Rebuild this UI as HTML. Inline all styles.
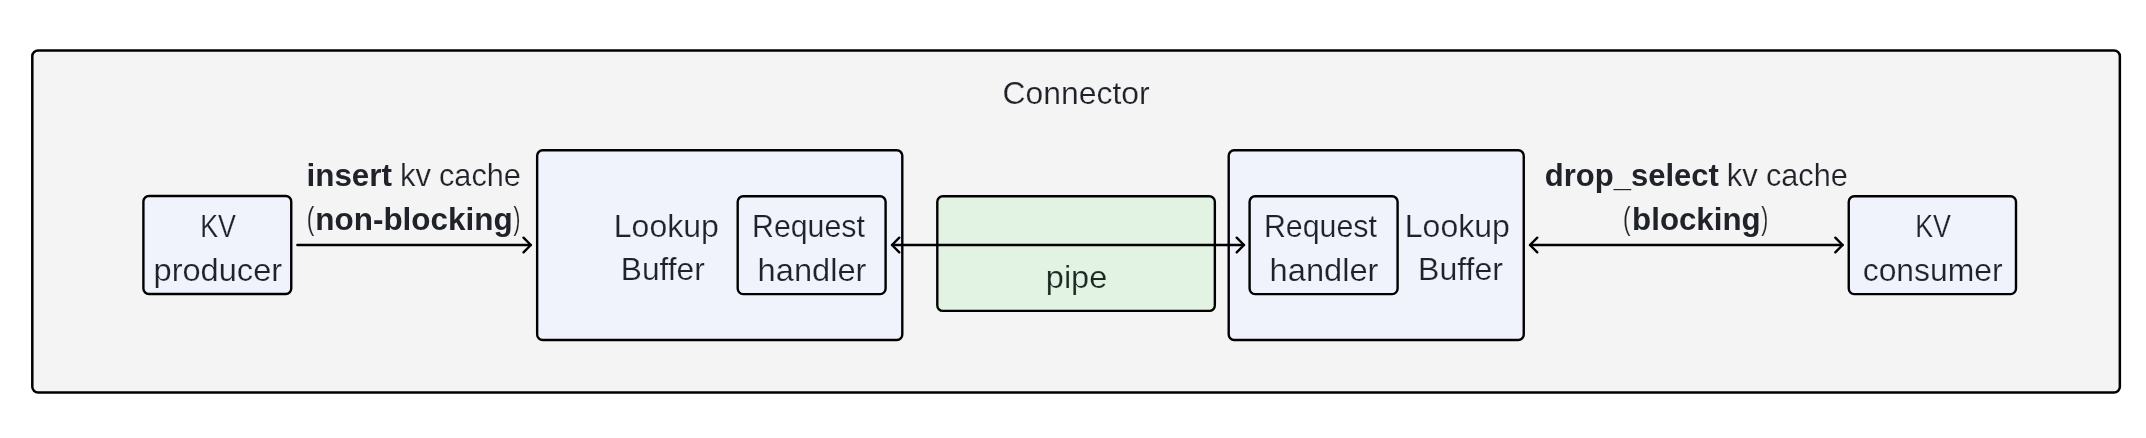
<!DOCTYPE html>
<html><head><meta charset="utf-8"><style>
html,body{margin:0;padding:0;background:#fff;width:2146px;height:438px;overflow:hidden}
svg{display:block;will-change:transform;font-family:"Liberation Sans",sans-serif;font-size:32px}
</style></head><body>
<svg width="2146" height="438" viewBox="0 0 2146 438">
<rect x="0" y="0" width="2146" height="438" fill="#fff"/>
<rect x="32.30" y="50.45" width="2087.55" height="342.05" rx="5.8" ry="5.8" fill="#f4f4f4" stroke="#000" stroke-width="2.5"/>
<rect x="143.40" y="196.00" width="147.85" height="98.00" rx="5.5" ry="5.5" fill="#f0f3fb" stroke="#000" stroke-width="2.4"/>
<rect x="537.15" y="150.20" width="365.15" height="189.80" rx="5.5" ry="5.5" fill="#f0f3fb" stroke="#000" stroke-width="2.4"/>
<rect x="737.70" y="196.20" width="147.90" height="97.90" rx="5.5" ry="5.5" fill="#f0f3fb" stroke="#000" stroke-width="2.4"/>
<rect x="937.30" y="196.30" width="277.55" height="114.60" rx="5.5" ry="5.5" fill="#e2f2e3" stroke="#000" stroke-width="2.4"/>
<rect x="1228.70" y="150.20" width="295.05" height="189.80" rx="5.5" ry="5.5" fill="#f0f3fb" stroke="#000" stroke-width="2.4"/>
<rect x="1249.60" y="196.20" width="148.00" height="97.90" rx="5.5" ry="5.5" fill="#f0f3fb" stroke="#000" stroke-width="2.4"/>
<rect x="1848.75" y="196.20" width="167.25" height="97.90" rx="5.5" ry="5.5" fill="#f0f3fb" stroke="#000" stroke-width="2.4"/>
<path d="M297.40 245.0 L530.80 245.0" fill="none" stroke="#000" stroke-width="2.4" stroke-linecap="round"/>
<path d="M523.50 237.70 L530.80 245.00 L523.50 252.30" fill="none" stroke="#000" stroke-width="2.4" stroke-linecap="round" stroke-linejoin="round"/>
<path d="M892.00 245.0 L1244.00 245.0" fill="none" stroke="#000" stroke-width="2.4" stroke-linecap="round"/>
<path d="M899.30 237.70 L892.00 245.00 L899.30 252.30" fill="none" stroke="#000" stroke-width="2.4" stroke-linecap="round" stroke-linejoin="round"/>
<path d="M1236.70 237.70 L1244.00 245.00 L1236.70 252.30" fill="none" stroke="#000" stroke-width="2.4" stroke-linecap="round" stroke-linejoin="round"/>
<path d="M1530.00 245.0 L1842.60 245.0" fill="none" stroke="#000" stroke-width="2.4" stroke-linecap="round"/>
<path d="M1537.30 237.70 L1530.00 245.00 L1537.30 252.30" fill="none" stroke="#000" stroke-width="2.4" stroke-linecap="round" stroke-linejoin="round"/>
<path d="M1835.30 237.70 L1842.60 245.00 L1835.30 252.30" fill="none" stroke="#000" stroke-width="2.4" stroke-linecap="round" stroke-linejoin="round"/>
<g fill="#1f2329">
<text transform="translate(1002.45 104.00) scale(0.9973 1)" stroke="#f4f4f4" stroke-width="0.2">Connector</text>
<text transform="translate(200.23 237.40) scale(0.8375 1)" stroke="#f0f3fb" stroke-width="0.2">KV</text>
<text transform="translate(153.53 280.70) scale(1.0186 1)" stroke="#f0f3fb" stroke-width="0.2">producer</text>
<text transform="translate(613.81 236.50) scale(0.9994 1)" stroke="#f0f3fb" stroke-width="0.2">Lookup</text>
<text transform="translate(620.82 280.00) scale(0.9902 1)" stroke="#f0f3fb" stroke-width="0.2">Buffer</text>
<text transform="translate(752.01 237.10) scale(0.9468 1)" stroke="#f0f3fb" stroke-width="0.2">Request</text>
<text transform="translate(757.60 280.70) scale(1.0202 1)" stroke="#f0f3fb" stroke-width="0.2">handler</text>
<text transform="translate(1045.84 287.90) scale(1.0154 1)" stroke="#e2f2e3" stroke-width="0.2" fill="#1d2a23">pipe</text>
<text transform="translate(1263.91 237.10) scale(0.9486 1)" stroke="#f0f3fb" stroke-width="0.2">Request</text>
<text transform="translate(1269.60 280.70) scale(1.0202 1)" stroke="#f0f3fb" stroke-width="0.2">handler</text>
<text transform="translate(1404.80 236.50) scale(1.0004 1)" stroke="#f0f3fb" stroke-width="0.2">Lookup</text>
<text transform="translate(1418.10 280.00) scale(1.0011 1)" stroke="#f0f3fb" stroke-width="0.2">Buffer</text>
<text transform="translate(1915.23 237.40) scale(0.8375 1)" stroke="#f0f3fb" stroke-width="0.2">KV</text>
<text transform="translate(1862.72 280.70) scale(0.9955 1)" stroke="#f0f3fb" stroke-width="0.2">consumer</text>
<text transform="translate(306.47 186.30) scale(0.9824 1)" font-weight="700">insert</text>
<text transform="translate(399.92 186.30) scale(0.9695 1)" stroke="#f4f4f4" stroke-width="0.2">kv</text>
<text transform="translate(438.95 186.30) scale(0.9601 1)" stroke="#f4f4f4" stroke-width="0.2">cache</text>
<text transform="translate(306.67 228.70) scale(0.7057 1)" stroke="#f4f4f4" stroke-width="0.2">(</text>
<text transform="translate(315.30 229.90) scale(0.9833 1)" font-weight="700">non-blocking</text>
<text transform="translate(513.60 228.70) scale(0.6422 1)" stroke="#f4f4f4" stroke-width="0.2">)</text>
<text transform="translate(1544.75 186.30) scale(0.9698 1)" font-weight="700">drop_select</text>
<text transform="translate(1726.82 186.30) scale(0.9695 1)" stroke="#f4f4f4" stroke-width="0.2">kv</text>
<text transform="translate(1765.95 186.30) scale(0.9577 1)" stroke="#f4f4f4" stroke-width="0.2">cache</text>
<text transform="translate(1623.07 228.50) scale(0.7057 1)" stroke="#f4f4f4" stroke-width="0.2">(</text>
<text transform="translate(1632.11 229.70) scale(0.9768 1)" font-weight="700">blocking</text>
<text transform="translate(1761.30 228.50) scale(0.6533 1)" stroke="#f4f4f4" stroke-width="0.2">)</text>
</g>
</svg>
</body></html>
